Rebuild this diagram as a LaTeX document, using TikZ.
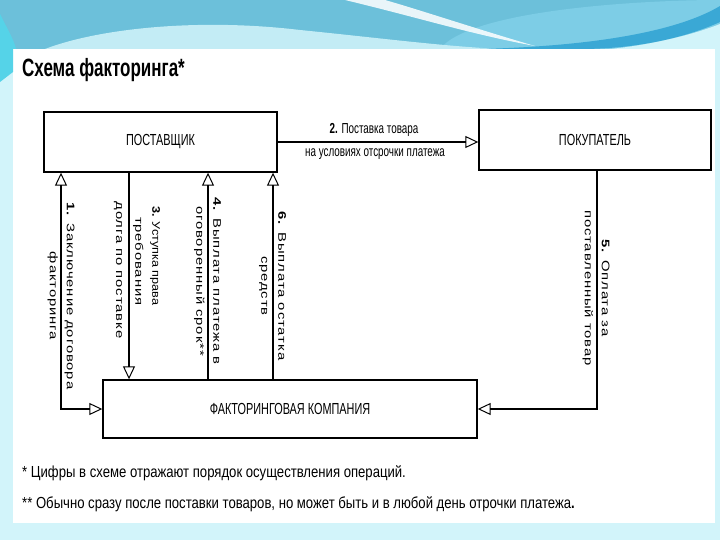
\documentclass[tikz,border=0pt]{standalone}
\usepackage{fontspec}
\setmainfont{Liberation Sans}
\newfontfamily\condfont[FakeStretch=0.68]{Liberation Sans}
\newfontfamily\notefont[FakeStretch=0.82]{Liberation Sans}
\newfontfamily\spacedfont[FakeStretch=1.35, LetterSpace=8]{Liberation Sans}
\newfontfamily\tightfont[FakeStretch=1.15]{Liberation Sans}
\usetikzlibrary{arrows.meta}
\definecolor{sky}{HTML}{6CC0DA}
\definecolor{dome}{HTML}{7DCDE6}
\definecolor{deep}{HTML}{3AA8D5}
\definecolor{pale}{HTML}{D2F4FA}
\definecolor{glow}{HTML}{55D3E8}
\tikzset{
  box/.style={draw, line width=1.4pt, minimum height=60pt, inner sep=0pt,
    font=\condfont\fontsize{16}{19}\selectfont},
  conn/.style={line width=1.4pt},
  lbl/.style={rotate=-90, align=center, inner sep=0pt,
    font=\spacedfont\fontsize{11}{17}\selectfont},
  toplbl/.style={inner sep=0pt, anchor=base, font=\condfont\fontsize{14.5}{17}\selectfont},
  note/.style={anchor=base west, inner sep=0pt, font=\notefont\fontsize{16}{19}\selectfont}
}
\begin{document}
\begin{tikzpicture}[x=1pt, y=-1pt, >={Triangle[open, length=13pt, width=12pt, line width=1pt]}]
\useasboundingbox (0,0) rectangle (720,540);
% slide background
\fill[pale] (0,0) rectangle (720,540);
\fill[white] (13,49) rectangle (715,523);
% waves at the top
\fill[sky] (0,0) rectangle (720,49);
\fill[dome] (440,49) .. controls (470,10) and (640,0) .. (720,0) -- (720,49) -- cycle;
\fill[pale!85!sky] (45,49) .. controls (100,28) and (200,18) .. (300,30) .. controls (380,38) and (440,46) .. (500,49) -- cycle;
\fill[white, opacity=0.85] (345,0) .. controls (420,18) and (470,34) .. (535,46) .. controls (480,30) and (420,10) .. (385,0) -- cycle;
\fill[deep] (480,49) .. controls (600,46) and (680,30) .. (720,6) -- (720,22) .. controls (680,40) and (630,49) .. (580,49) -- cycle;
\fill[pale] (610,49) .. controls (660,44) and (700,32) .. (720,24) -- (720,49) -- cycle;
\fill[glow] (0,14) .. controls (8,30) and (14,40) .. (16,49) -- (13,49) -- (13,72) -- (0,82) -- cycle;
% title
\node[anchor=base west, inner sep=0pt, font=\condfont\bfseries\fontsize{25}{30}\selectfont] (title) at (22,77) {Схема факторинга*};
% the three parties
\node[box, minimum width=233pt] (post) at (160.5,142) {ПОСТАВЩИК};
\node[box, minimum width=232pt] (buyer) at (595,140) {ПОКУПАТЕЛЬ};
\node[box, minimum width=374pt, minimum height=58pt] (fk) at (290,409) {ФАКТОРИНГОВАЯ КОМПАНИЯ};
% where the vertical lines run
\coordinate (c1) at (61,0);
\coordinate (c3) at (129,0);
\coordinate (c4) at (208,0);
\coordinate (c6) at (273,0);
\coordinate (c5) at (597,0);
% lines between the parties
\draw[conn, ->] (post.east) -- (post.east -| buyer.west);
\draw[conn, <->] (post.south -| c1) |- (fk.west);
\draw[conn, ->] (post.south -| c3) -- (fk.north -| c3);
\draw[conn, ->] (fk.north -| c4) -- (post.south -| c4);
\draw[conn, ->] (fk.north -| c6) -- (post.south -| c6);
\draw[conn, ->] (buyer.south -| c5) |- (fk.east);
% labels of the lines
\node[toplbl] (l2a) at (374,134) {\textbf{2.} Поставка товара};
\node[toplbl] (l2b) at (375,157) {на условиях отсрочки платежа};
\node[lbl] (l1) at (61,296) {\textbf{1.} Заключение договора\\факторинга};
\node[lbl, align=right] (l3) at (146.5,256) {{\tightfont\textbf{3.} Уступка права}\\требования};
\node[lbl] (l3b) at (118,270) {долга по поставке};
\node[lbl] (l4) at (207.5,281) {\textbf{4.} Выплата платежа в\\оговоренный срок**};
\node[lbl] (l6) at (272.5,286) {\textbf{6.} Выплата остатка\\средств};
\node[lbl] (l5) at (596,288) {\textbf{5.} Оплата за\\поставленный товар};
% notes under the scheme
\node[note] (n1) at (22,477) {* Цифры в схеме отражают порядок осуществления операций.};
\node[note] (n2) at (22,508) {** Обычно сразу после поставки товаров, но может быть и в любой день отрочки платежа\textbf{.}};
\end{tikzpicture}
\end{document}
